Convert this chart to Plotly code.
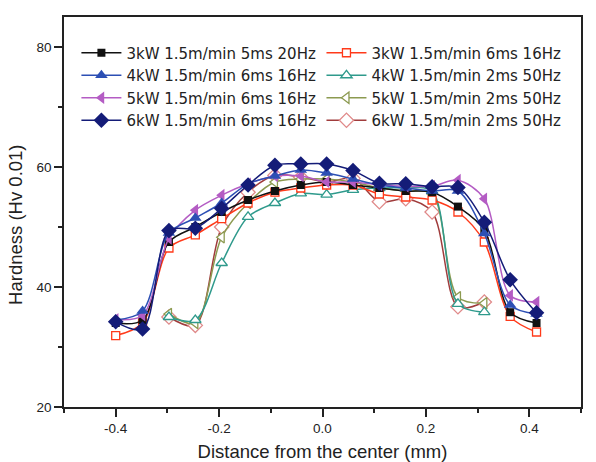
import plotly.graph_objects as go

# x positions of the measurement points (mm)
x_full = [-0.400, -0.348, -0.297, -0.246, -0.195, -0.144, -0.092, -0.042, 0.008,
          0.059, 0.110, 0.161, 0.212, 0.262, 0.313, 0.363, 0.414]
x_short = [-0.297, -0.246, -0.195, -0.144, -0.092, -0.042, 0.008,
           0.059, 0.110, 0.161, 0.212, 0.262, 0.313]

# Hardness values (Hv 0.01)
h_3kw_5ms = [34.0, 34.5, 47.5, 50.0, 52.5, 54.5, 56.0, 57.0, 57.5, 57.0, 56.5, 56.0, 55.8, 53.4, 49.5, 35.8, 34.0]
h_3kw_6ms = [31.9, 34.0, 46.5, 48.7, 51.4, 54.0, 55.8, 56.5, 57.0, 57.0, 55.5, 55.0, 54.5, 52.5, 47.5, 35.1, 32.5]
h_4kw_6ms = [34.5, 36.0, 49.0, 51.5, 54.0, 57.2, 58.5, 59.5, 59.0, 58.0, 57.0, 56.5, 56.0, 56.0, 48.9, 37.0, 35.5]
h_5kw_6ms = [34.6, 35.3, 48.1, 52.8, 55.3, 57.2, 58.5, 58.5, 57.5, 57.5, 57.0, 56.8, 56.8, 57.8, 54.7, 38.6, 37.5]
h_6kw_6ms = [34.2, 33.0, 49.4, 49.8, 53.1, 57.0, 60.3, 60.5, 60.5, 59.4, 57.3, 57.2, 56.7, 56.6, 50.8, 41.2, 35.7]
h_4kw_2ms = [35.0, 34.5, 44.0, 51.7, 54.0, 55.6, 55.4, 56.2, 56.5, 56.5, 56.0, 37.2, 35.8]
h_5kw_2ms = [35.5, 34.0, 48.3, 54.0, 57.5, 58.0, 58.0, 57.5, 56.5, 56.0, 55.5, 38.3, 37.3]
h_6kw_2ms = [35.0, 33.6, 50.0, 55.8, 58.6, 58.3, 57.5, 58.1, 54.2, 54.7, 52.5, 36.7, 37.5]

names = ["3kW 1.5m/min 5ms 20Hz", "3kW 1.5m/min 6ms 16Hz",
         "4kW 1.5m/min 6ms 16Hz", "4kW 1.5m/min 2ms 50Hz",
         "5kW 1.5m/min 6ms 16Hz", "5kW 1.5m/min 2ms 50Hz",
         "6kW 1.5m/min 6ms 16Hz", "6kW 1.5m/min 2ms 50Hz"]

x_tickvals = [-0.4, -0.2, 0.0, 0.2, 0.4]
x_ticktext = ["-0.4", "-0.2", "0.0", "0.2", "0.4"]
y_tickvals = [20, 40, 60, 80]
y_ticktext = ["20", "40", "60", "80"]

FONT = "Liberation Sans, Arial, sans-serif"
LEGFONT = "DejaVu Sans, sans-serif"

fig = go.Figure()

def add(name, x, y, color, symbol, size, filled, legend, rank, mcolor=None):
    mc = mcolor or color
    marker = dict(symbol=symbol, size=size,
                  color=mc if filled else "white",
                  line=dict(color=mc, width=0 if filled else 1.3))
    fig.add_trace(go.Scatter(
        x=x, y=y, name=name, mode="lines+markers",
        line=dict(color=color, width=1.5, shape="spline", smoothing=0.9),
        marker=marker, legend=legend, legendrank=rank))

# draw order: 2ms series underneath, 6ms series on top
add(names[7], x_short, h_6kw_2ms, "#a03c3c", "diamond", 11, False, "legend2", 4, mcolor="#e08a8a")
add(names[5], x_short, h_5kw_2ms, "#8c9a50", "triangle-left", 10, False, "legend2", 3)
add(names[3], x_short, h_4kw_2ms, "#2f9a8c", "triangle-up", 10, False, "legend2", 2)
add(names[1], x_full, h_3kw_6ms, "#ff3a1a", "square", 8, False, "legend2", 1)
add(names[0], x_full, h_3kw_5ms, "#111111", "square", 8, True, "legend", 1)
add(names[4], x_full, h_5kw_6ms, "#b45cc4", "triangle-left", 11, True, "legend", 3)
add(names[2], x_full, h_4kw_6ms, "#2c4fb4", "triangle-up", 11, True, "legend", 2)
add(names[6], x_full, h_6kw_6ms, "#141c78", "diamond", 12, True, "legend", 4)

axis_common = dict(showline=True, linecolor="#222222", linewidth=1.5, mirror=True,
                   ticks="outside", ticklen=8, tickwidth=1.5, tickcolor="#222222",
                   showgrid=False, zeroline=False, tickmode="array", automargin=False,
                   tickfont=dict(family=FONT, size=13.5, color="#222222"))

fig.update_layout(
    width=596, height=462,
    margin=dict(l=64, r=15, t=17, b=55),
    paper_bgcolor="white", plot_bgcolor="white",
    font=dict(family=FONT, color="#222222"),
    xaxis=dict(range=[-0.5, 0.5], tickvals=x_tickvals, ticktext=x_ticktext,
               minor=dict(tickmode="linear", tick0=0, dtick=0.1, ticklen=4, tickwidth=1.5,
                          tickcolor="#222222", ticks="outside"),
               title=dict(text="Distance from the center (mm)",
                          font=dict(family=FONT, size=18.5, color="#222222"), standoff=14),
               **axis_common),
    yaxis=dict(range=[20, 85], tickvals=y_tickvals, ticktext=y_ticktext,
               minor=dict(tickmode="linear", tick0=0, dtick=10, ticklen=4, tickwidth=1.5,
                          tickcolor="#222222", ticks="outside"),
               **axis_common),
    annotations=[dict(text="Hardness (Hv 0.01)", textangle=-90, xref="paper", yref="paper",
                      x=-0.095, y=(407 - 225) / 390, xanchor="center", yanchor="middle",
                      showarrow=False, font=dict(family=FONT, size=18.5, color="#222222"))],
    legend=dict(x=0.024, y=0.95, xanchor="left", yanchor="top",
                font=dict(family=LEGFONT, size=15, color="#222222"),
                bgcolor="rgba(0,0,0,0)", tracegroupgap=0, itemwidth=40),
    legend2=dict(x=0.498, y=0.95, xanchor="left", yanchor="top",
                 font=dict(family=LEGFONT, size=15, color="#222222"),
                 bgcolor="rgba(0,0,0,0)", tracegroupgap=0, itemwidth=40),
    showlegend=True,
)

fig.write_html("out.html")
